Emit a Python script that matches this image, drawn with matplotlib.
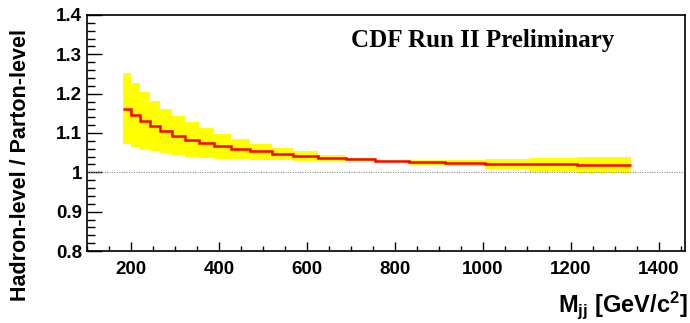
import matplotlib
matplotlib.use("Agg")
import matplotlib.pyplot as plt
from matplotlib.ticker import MultipleLocator, FuncFormatter

# dijet mass bin edges [GeV/c^2]
edges = [180, 200, 220, 242, 266, 293, 323, 354, 388, 426, 471, 519,
         568, 625, 688, 755, 831, 914, 1005, 1106, 1215, 1337]
# hadron-level / parton-level correction per bin
ratio = [1.161, 1.146, 1.131, 1.117, 1.104, 1.093, 1.083, 1.074, 1.066,
         1.060, 1.053, 1.047, 1.041, 1.036, 1.034, 1.029, 1.026, 1.023,
         1.021, 1.021, 1.019]
# uncertainty band
band_hi = [1.252, 1.227, 1.204, 1.182, 1.162, 1.144, 1.128, 1.112, 1.098,
           1.085, 1.073, 1.063, 1.053, 1.045, 1.037, 1.031, 1.032, 1.032,
           1.034, 1.036, 1.039]
band_lo = [1.072, 1.064, 1.057, 1.053, 1.049, 1.044, 1.040, 1.037, 1.034,
           1.034, 1.032, 1.031, 1.030, 1.029, 1.028, 1.027, 1.019, 1.015,
           1.008, 1.002, 0.998]

plt.rcParams['font.family'] = ['Liberation Sans', 'DejaVu Sans']
plt.rcParams['font.weight'] = 'bold'
plt.rcParams['mathtext.fontset'] = 'custom'
plt.rcParams['mathtext.rm'] = 'Liberation Sans:bold'
plt.rcParams['mathtext.it'] = 'Liberation Sans:bold'
plt.rcParams['mathtext.bf'] = 'Liberation Sans:bold'

fig = plt.figure(figsize=(6.9, 3.23), dpi=100)
ax = fig.add_axes([0.1268, 0.2229, 0.8660, 0.7307])

ax.stairs(band_hi, edges, baseline=band_lo, fill=True, color='#ffff00', lw=0)
ax.stairs(ratio, edges, baseline=None, color='#ff0000', lw=1.8)
ax.axhline(1.0, color='#888888', lw=0.8, ls=(0, (1, 1.2)))

ax.set_xlim(100, 1460)
ax.set_ylim(0.8, 1.4)

ax.xaxis.set_major_locator(MultipleLocator(200))
ax.xaxis.set_minor_locator(MultipleLocator(50))
ax.yaxis.set_major_locator(MultipleLocator(0.1))
ax.yaxis.set_minor_locator(MultipleLocator(0.02))
ax.yaxis.set_major_formatter(FuncFormatter(lambda v, p: '%g' % round(v, 2)))

ax.tick_params(axis='both', which='both', direction='in', top=False, right=False,
               width=1.0, labelsize=13.5)
ax.tick_params(axis='x', which='major', length=6.5, pad=7)
ax.tick_params(axis='x', which='minor', length=3.5)
ax.tick_params(axis='y', which='major', length=11, pad=4)
ax.tick_params(axis='y', which='minor', length=5.5)
for s in ax.spines.values():
    s.set_linewidth(1.2)

fig.text(0.029, 1 - 165 / 323, 'Hadron-level / Parton-level', rotation=90,
         ha='center', va='center', fontsize=15.5, fontweight='bold')
fig.text(0.997, 1 - 312 / 323, r'M$_{\rm jj}$ [GeV/c$^{\rm 2}$]',
         ha='right', va='baseline', fontsize=17, fontweight='bold')
ax.text(700, 1.335, 'CDF Run II Preliminary', family='Liberation Serif',
        fontsize=18, fontweight='bold', ha='left', va='center')

fig.savefig('out.png', dpi=100)
